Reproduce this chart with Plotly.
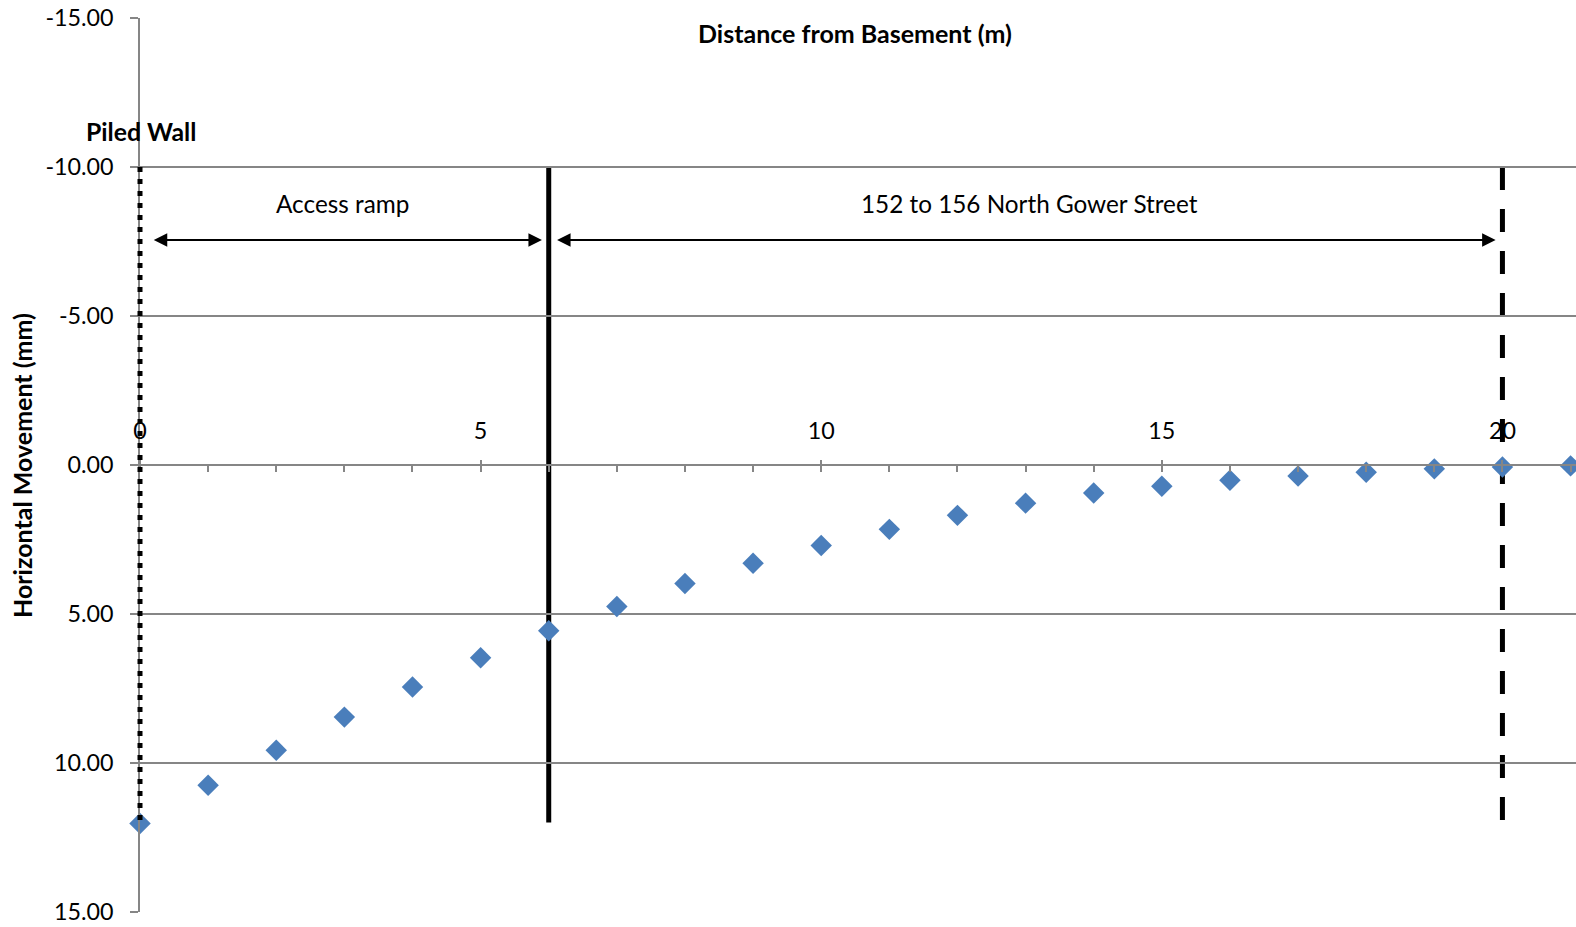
import plotly.graph_objects as go

# Horizontal movement profile behind the piled wall
distance_m = [0, 1, 2, 3, 4, 5, 6, 7, 8, 9, 10, 11, 12, 13, 14, 15, 16, 17, 18, 19, 20, 21]
movement_mm = [12.03, 10.75, 9.57, 8.46, 7.45, 6.47, 5.56, 4.75, 3.98, 3.30, 2.70,
               2.16, 1.69, 1.28, 0.94, 0.71, 0.51, 0.37, 0.24, 0.13, 0.07, 0.03]

# Reference lines: piled wall, ramp/building boundary, building limit
wall_x = [0, 6, 20]
wall_dash = ["5px,7px", "solid", "23px,19px"]
wall_top = -10
wall_bottom = 12

# Zone extents (arrows) and labels
zone_labels = ["Access ramp", "152 to 156 North Gower Street"]
zone_start = [0.18, 6.1]
zone_end = [5.9, 19.9]
zone_label_x = [2.97, 13.06]
zone_arrow_y = -7.55
zone_label_y = -8.76

x_ticks = [0, 5, 10, 15, 20]
y_ticks = [-15, -10, -5, 0, 5, 10, 15]
x_range = [0, 21.08]

FONT = "Lato"
GRID = "#868686"
BLUE = "#4A7EBB"

fig = go.Figure()

fig.add_trace(go.Scatter(
    x=distance_m, y=movement_mm, mode="markers", cliponaxis=False,
    marker=dict(symbol="diamond", size=16.5, color=BLUE),
    showlegend=False,
))

# Walls: solid and dashed sit under the markers, dotted piled wall on top.
# x is given as a fraction of the x domain so the wall on the axis is not clipped.
for xv, dash in zip(wall_x, wall_dash):
    frac = (xv - x_range[0]) / (x_range[1] - x_range[0])
    fig.add_shape(
        type="line", xref="x domain", yref="y",
        x0=frac, x1=frac, y0=wall_top, y1=wall_bottom,
        line=dict(color="black", width=5, dash=dash),
        layer="above" if xv == wall_x[0] else "below",
    )

for x0, x1, lx, txt in zip(zone_start, zone_end, zone_label_x, zone_labels):
    fig.add_annotation(
        x=x1, y=zone_arrow_y, ax=x0, ay=zone_arrow_y,
        xref="x", yref="y", axref="x", ayref="y",
        text="", showarrow=True, arrowhead=2, arrowside="end+start",
        arrowsize=1.35, arrowwidth=2, arrowcolor="black", standoff=0, startstandoff=0,
    )
    fig.add_annotation(
        x=lx, y=zone_label_y, xref="x", yref="y", text=txt, showarrow=False,
        font=dict(family=FONT, size=24.3, color="black"),
    )

fig.add_annotation(
    x=0.01, y=-11.2, xref="x", yref="y", text="<b>Piled Wall</b>", showarrow=False,
    font=dict(family=FONT, size=24.8, color="black"),
)
fig.add_annotation(
    x=10.5, y=-14.5, xref="x", yref="y", text="<b>Distance from Basement (m)</b>",
    showarrow=False, font=dict(family=FONT, size=25, color="black"),
)
fig.add_annotation(
    x=-0.0822, y=0.5, xref="paper", yref="paper", text="<b>Horizontal Movement (mm)</b>",
    textangle=-90, showarrow=False, xanchor="center", yanchor="middle",
    font=dict(family=FONT, size=25, color="black"),
)

fig.update_layout(
    width=1576, height=927,
    margin=dict(l=140, r=0, t=18, b=15),
    paper_bgcolor="white", plot_bgcolor="white",
    font=dict(family=FONT, size=23.3, color="black"),
    xaxis=dict(
        range=x_range, anchor="free", position=0.5, side="top",
        tickmode="array", tickvals=x_ticks, ticktext=[str(v) for v in x_ticks],
        ticks="outside", ticklen=4, tickwidth=1.5, tickcolor=GRID,
        minor=dict(dtick=1, ticks="inside", ticklen=6, tickwidth=1.5, tickcolor=GRID),
        ticklabelstandoff=12,
        showline=True, linecolor=GRID, linewidth=1.5,
        showgrid=False, zeroline=False,
    ),
    yaxis=dict(
        range=[15, -15], tickmode="array", tickvals=y_ticks,
        ticktext=[f"{v:.2f}" for v in y_ticks],
        ticks="outside", ticklen=8, tickwidth=1.5, tickcolor=GRID,
        ticklabelstandoff=12,
        showline=True, linecolor=GRID, linewidth=1.5,
        showgrid=True, gridcolor=GRID, gridwidth=1.5, zeroline=False,
    ),
)

fig.write_html("out.html")
